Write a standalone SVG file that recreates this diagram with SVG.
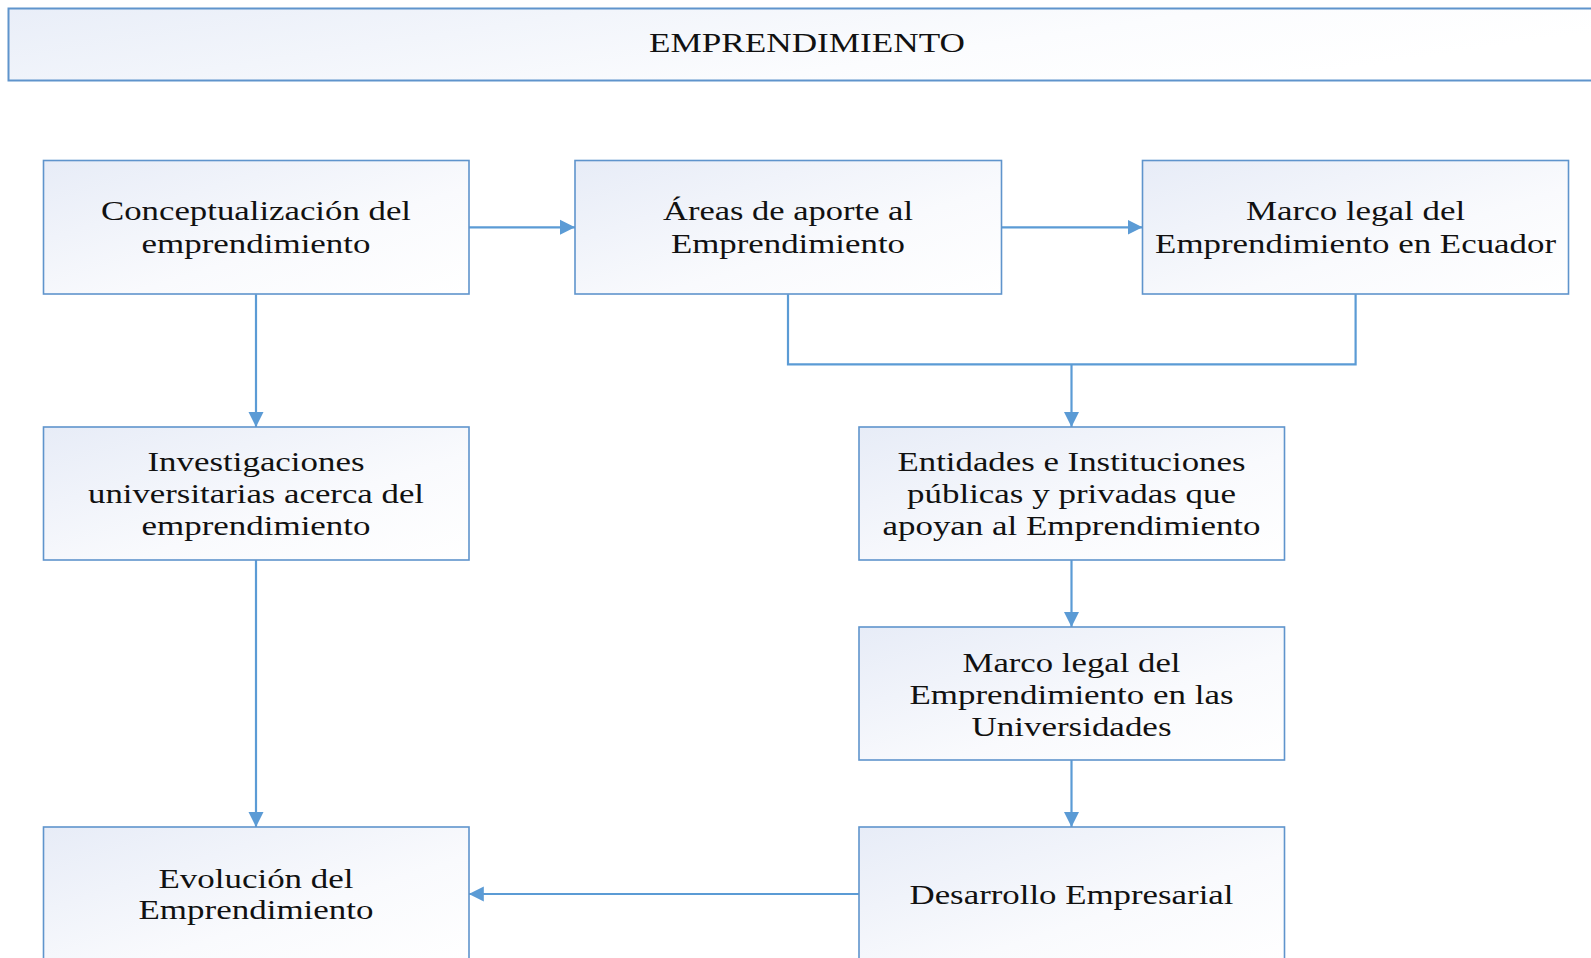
<svg xmlns="http://www.w3.org/2000/svg" width="1591" height="958" viewBox="0 0 1591 958">
<defs>
<linearGradient id="gBox" x1="0" y1="0" x2="1" y2="1">
<stop offset="0" stop-color="#e7ecf7"/>
<stop offset="0.6" stop-color="#f9fafd"/>
<stop offset="1" stop-color="#ffffff"/>
</linearGradient>
<linearGradient id="gTitle" x1="0" y1="0" x2="1" y2="0.3">
<stop offset="0" stop-color="#e9eef8"/>
<stop offset="0.7" stop-color="#fbfcfe"/>
<stop offset="1" stop-color="#ffffff"/>
</linearGradient>
<marker id="arr" markerUnits="userSpaceOnUse" markerWidth="18" markerHeight="18" refX="15" refY="9" orient="auto">
<path d="M0,1.5 L15,9 L0,16.5 z" fill="#5b9bd5"/>
</marker>
<style>
.box{fill:url(#gBox);stroke:#5f94cc;stroke-width:1.6}
.t{font-family:"Liberation Serif","Times New Roman",serif;font-size:27px;fill:#111;text-anchor:middle}
.c{fill:none;stroke:#5b9bd5;stroke-width:2.2}
.a{marker-end:url(#arr)}
</style>
</defs>
<g id="title">
<rect x="8.5" y="8.5" width="1600" height="72" fill="url(#gTitle)" stroke="#5f94cc" stroke-width="2"/>
<text class="t" x="807" y="51.5" textLength="316" lengthAdjust="spacingAndGlyphs">EMPRENDIMIENTO</text>
</g>
<g id="connectors">
<path class="c a" d="M468.8,227.3 H575"/>
<path class="c a" d="M1001.5,227.3 H1142.5"/>
<path class="c a" d="M256,294.3 V427"/>
<path class="c" d="M788,294.3 V364.3 H1355.6 V294.3"/>
<path class="c a" d="M1071.5,364.3 V427"/>
<path class="c a" d="M256,560 V827"/>
<path class="c a" d="M1071.5,560 V627"/>
<path class="c a" d="M1071.5,760 V827"/>
<path class="c a" d="M859,894 H468.8"/>
</g>
<g id="n1">
<rect class="box" x="43.5" y="160.5" width="425.5" height="133.5"/>
<text class="t" x="256" y="220" textLength="310" lengthAdjust="spacingAndGlyphs">Conceptualización del</text>
<text class="t" x="256" y="252.5" textLength="229" lengthAdjust="spacingAndGlyphs">emprendimiento</text>
</g>
<g id="n2">
<rect class="box" x="575" y="160.5" width="426.5" height="133.5"/>
<text class="t" x="788" y="220" textLength="250" lengthAdjust="spacingAndGlyphs">Áreas de aporte al</text>
<text class="t" x="788" y="252.5" textLength="234" lengthAdjust="spacingAndGlyphs">Emprendimiento</text>
</g>
<g id="n3">
<rect class="box" x="1142.5" y="160.5" width="426" height="133.5"/>
<text class="t" x="1355.6" y="220" textLength="219" lengthAdjust="spacingAndGlyphs">Marco legal del</text>
<text class="t" x="1355.6" y="252.5" textLength="401" lengthAdjust="spacingAndGlyphs">Emprendimiento en Ecuador</text>
</g>
<g id="n4">
<rect class="box" x="43.5" y="427" width="425.5" height="133"/>
<text class="t" x="256" y="470.7" textLength="217" lengthAdjust="spacingAndGlyphs">Investigaciones</text>
<text class="t" x="256" y="503" textLength="336" lengthAdjust="spacingAndGlyphs">universitarias acerca del</text>
<text class="t" x="256" y="534.6" textLength="229" lengthAdjust="spacingAndGlyphs">emprendimiento</text>
</g>
<g id="n5">
<rect class="box" x="859" y="427" width="425.5" height="133"/>
<text class="t" x="1071.5" y="470.7" textLength="348" lengthAdjust="spacingAndGlyphs">Entidades e Instituciones</text>
<text class="t" x="1071.5" y="503" textLength="329" lengthAdjust="spacingAndGlyphs">públicas y privadas que</text>
<text class="t" x="1071.5" y="534.6" textLength="378" lengthAdjust="spacingAndGlyphs">apoyan al Emprendimiento</text>
</g>
<g id="n6">
<rect class="box" x="859" y="627" width="425.5" height="133"/>
<text class="t" x="1071.5" y="671.6" textLength="218" lengthAdjust="spacingAndGlyphs">Marco legal del</text>
<text class="t" x="1071.5" y="704" textLength="324" lengthAdjust="spacingAndGlyphs">Emprendimiento en las</text>
<text class="t" x="1071.5" y="735.5" textLength="200" lengthAdjust="spacingAndGlyphs">Universidades</text>
</g>
<g id="n7">
<rect class="box" x="859" y="827" width="425.5" height="140"/>
<text class="t" x="1071.5" y="904" textLength="324" lengthAdjust="spacingAndGlyphs">Desarrollo Empresarial</text>
</g>
<g id="n8">
<rect class="box" x="43.5" y="827" width="425.5" height="140"/>
<text class="t" x="256" y="887.7" textLength="195" lengthAdjust="spacingAndGlyphs">Evolución del</text>
<text class="t" x="256" y="919" textLength="235" lengthAdjust="spacingAndGlyphs">Emprendimiento</text>
</g>
</svg>
